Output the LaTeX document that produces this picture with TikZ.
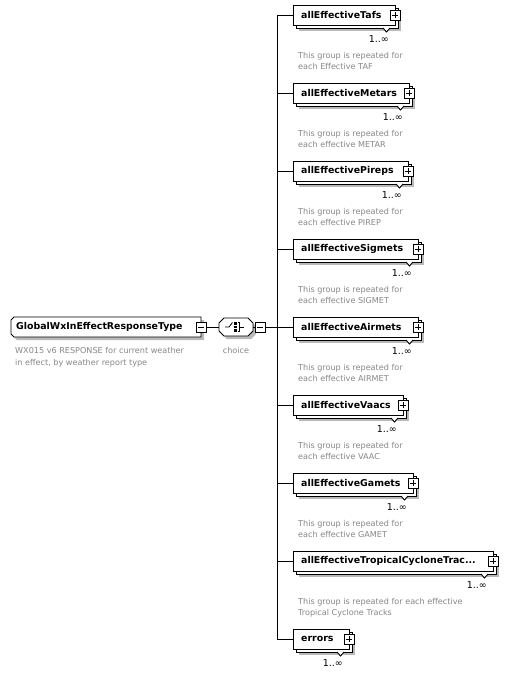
\documentclass[tikz,border=0pt]{standalone}
\usepackage{fontspec}
\setmainfont{DejaVu Sans}
\definecolor{descgray}{RGB}{135,135,135}
\definecolor{shadowgray}{RGB}{185,185,185}
\tikzset{
  bx/.style={draw=black, fill=white, line width=0.9pt, inner sep=0, outer sep=0},
  shd/.style={fill=shadowgray, draw=none},
  nm/.style={font=\bfseries\fontsize{9.4}{11}\selectfont, anchor=west, inner sep=0},
  ds/.style={font=\fontsize{8.1}{10}\selectfont, text=descgray, anchor=base west, inner sep=0},
  ml/.style={font=\fontsize{9.5}{11}\selectfont, anchor=east, inner sep=0},
  pm/.style={draw=black, fill=white, line width=0.9pt, minimum size=10, inner sep=0, outer sep=0},
  ln/.style={line width=0.9pt},
}
\newcommand\grpbox[4]{%
  \pgfmathsetmacro\bw{#3-293}%
  \fill[shd] (299,#2+6) rectangle (#3+6,#2+26);
  \node[bx, anchor=north west, minimum width=\bw, minimum height=20] (#1b) at (296,#2+3) {};
  \draw[ln, fill=white] (#3-12,#2+23) -- (#3-8.5,#2+27) -- (#3-5,#2+23);
  \node[bx, anchor=north west, minimum width=\bw, minimum height=20] (#1) at (293,#2) {};
  \node[nm] (#1t) at ([xshift=8]#1.west) {#4};
  \node[pm] (#1p) at (#1.east) {};
  \draw[ln] ([xshift=-3]#1p.center) -- ([xshift=3]#1p.center);
  \draw[ln] ([yshift=-3]#1p.center) -- ([yshift=3]#1p.center);
  \node[ml] (#1m) at (#3-6,#2+34) {1..∞};
  \coordinate (#1j) at (277,#2+10);
  \draw[ln] (#1j) -- (#1.west);
}
\newcommand\grpdesc[4]{%
  \node[ds] (#1da) at (298,#2+53) {#3};
  \node[ds] (#1db) at (298,#2+64) {#4};
}
\begin{document}
\begin{tikzpicture}[x=1pt,y=-1pt]
\useasboundingbox (0,0) rectangle (511,675);
\fill[white] (0,0) rectangle (511,675);

% root element
\fill[shd] (17,320) -- (204,320) -- (204,340) -- (17,340) -- (14,337) -- (14,323) -- cycle;
\node[anchor=north west, minimum width=190, minimum height=20, inner sep=0, outer sep=0] (root) at (11,317) {};
\draw[ln, fill=white] (14,317) -- (201,317) -- (201,337) -- (14,337) -- (11,334) -- (11,320) -- cycle;
\node[nm] (roott) at (16,327) {GlobalWxInEffectResponseType};
\node[pm] (rootm) at (root.east) {};
\draw[ln] ([xshift=-3]rootm.center) -- ([xshift=3]rootm.center);
\node[ds] (rootda) at (15,353) {WX015 v6 RESPONSE for current weather};
\node[ds] (rootdb) at (15,365) {in effect, by weather report type};

% choice compositor
\fill[shd] (227,321) -- (251,321) -- (256,326) -- (256,334) -- (251,339) -- (227,339) -- (222,334) -- (222,326) -- cycle;
\node[anchor=center, minimum width=34, minimum height=18, inner sep=0, outer sep=0] (choice) at (236,327) {};
\draw[ln, fill=white] (224,318) -- (248,318) -- (253,323) -- (253,331) -- (248,336) -- (224,336) -- (219,331) -- (219,323) -- cycle;
\draw[line width=0.8pt] (225,327) -- (229,327) -- (232.5,322.5);
\fill (234,322.3) rectangle (236.6,324.6);
\fill (234,325.8) rectangle (236.6,328.1);
\fill (234,329.2) rectangle (236.6,331.5);
\draw[line width=0.8pt] (237.5,322.5) -- (239.5,322.5) -- (239.5,331.3) -- (237.5,331.3);
\draw[line width=0.8pt] (239.5,327) -- (243.5,327);
\node[pm] (choicem) at (260,327) {};
\draw[ln] ([xshift=-3]choicem.center) -- ([xshift=3]choicem.center);
\draw[ln] (choice.east) -- (choicem.west);
\node[font=\fontsize{8.1}{10}\selectfont, text=descgray, inner sep=0] (choicel) at (236,350) {choice};
\coordinate (choicej) at (277,327);
\draw[ln] (rootm.east) -- (choice.west);
\draw[ln] (choicem.east) -- (choicej);

% groups
\grpbox{tafs}{5}{395}{allEffectiveTafs}
\grpdesc{tafs}{5}{This group is repeated for}{each Effective TAF}
\grpbox{metars}{83}{409}{allEffectiveMetars}
\grpdesc{metars}{83}{This group is repeated for}{each effective METAR}
\grpbox{pireps}{161}{408}{allEffectivePireps}
\grpdesc{pireps}{161}{This group is repeated for}{each effective PIREP}
\grpbox{sigmets}{239}{418}{allEffectiveSigmets}
\grpdesc{sigmets}{239}{This group is repeated for}{each effective SIGMET}
\grpbox{airmets}{317}{418}{allEffectiveAirmets}
\grpdesc{airmets}{317}{This group is repeated for}{each effective AIRMET}
\grpbox{vaacs}{395}{403}{allEffectiveVaacs}
\grpdesc{vaacs}{395}{This group is repeated for}{each effective VAAC}
\grpbox{gamets}{473}{413}{allEffectiveGamets}
\grpdesc{gamets}{473}{This group is repeated for}{each effective GAMET}
\grpbox{tc}{551}{493}{allEffectiveTropicalCycloneTrac...}
\grpdesc{tc}{551}{This group is repeated for each effective}{Tropical Cyclone Tracks}
\grpbox{errors}{629}{349}{errors}

\draw[ln] (tafsj) -- (errorsj);
\end{tikzpicture}
\end{document}
